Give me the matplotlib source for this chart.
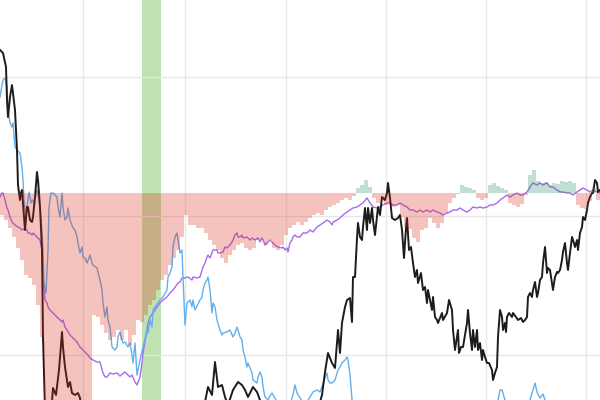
import numpy as np
import matplotlib
matplotlib.use("Agg")
import matplotlib.pyplot as plt

# ---------------- data ----------------
black_t = [0,3,6,7,8,10,12,15,17,18,20,21,22,25,27,28,30,32,33,35,37,38,40,42,43,45,48,51,53,56,59,62,63,65,67,68,70,72,75,78,80,83,90,100,110,120,130,140,150,160,170,180,190,200,205,208,212,215,218,222,225,228,233,238,242,245,248,253,257,260,265,275,285,295,305,315,320,322,325,328,332,335,338,340,342,345,347,350,352,353,355,357,358,360,362,363,365,367,368,370,372,373,375,377,378,380,382,385,387,388,390,392,395,398,400,402,404,406,407,409,411,413,415,417,418,421,423,425,427,428,432,433,435,437,438,442,443,447,449,452,453,455,457,458,459,461,463,467,468,470,472,473,475,477,478,480,482,483,485,487,489,492,493,495,497,498,500,502,503,505,506,507,509,512,513,516,518,521,523,525,527,528,530,532,533,535,537,538,540,542,543,545,547,548,550,552,553,555,557,558,560,562,563,565,567,568,570,572,573,575,577,578,580,582,583,585,587,588,590,592,593,595,597,598,600]
black_v = [143,140,126,93,76,96,108,83,43,8,-7,0,3,-37,-14,-14,-27,-29,-24,-4,21,13,-14,-57,-144,-217,-237,-222,-195,-202,-177,-139,-154,-174,-187,-194,-189,-200,-202,-200,-205,-227,-247,-257,-252,-262,-247,-267,-257,-252,-247,-237,-232,-222,-209,-194,-202,-169,-194,-192,-204,-212,-197,-189,-192,-197,-204,-194,-199,-207,-222,-232,-237,-227,-232,-217,-209,-202,-179,-160,-170,-175,-137,-160,-130,-114,-107,-105,-129,-84,-84,-45,-30,-44,-47,-34,-15,-37,-15,-30,-15,-27,-42,-24,-14,-22,-4,-7,0,10,-5,-25,-27,-25,-22,-37,-65,-35,-25,-57,-54,-70,-84,-77,-90,-80,-97,-94,-110,-97,-117,-104,-124,-127,-130,-120,-127,-120,-107,-117,-137,-157,-144,-137,-160,-154,-154,-130,-117,-140,-157,-137,-154,-137,-157,-150,-167,-157,-164,-170,-170,-177,-187,-180,-174,-144,-117,-124,-137,-130,-139,-124,-120,-124,-120,-124,-127,-125,-129,-127,-124,-104,-100,-104,-97,-89,-104,-100,-87,-84,-70,-54,-80,-75,-77,-90,-97,-84,-79,-80,-77,-67,-59,-50,-70,-77,-60,-44,-47,-54,-47,-57,-40,-34,-24,-27,-17,-10,-4,0,0,13,10,1,3]

blue_t = [0,2,3,5,7,8,10,12,13,15,17,20,22,23,24,26,27,29,31,32,34,37,39,41,43,44,46,48,49,51,53,55,57,58,60,62,63,65,67,68,70,73,75,77,78,80,82,83,85,87,90,92,93,97,100,102,103,105,107,108,110,112,113,115,117,118,120,122,123,125,128,130,132,133,135,137,140,143,147,148,150,152,153,155,160,163,167,168,170,172,173,175,177,178,180,182,183,185,187,190,192,193,195,200,202,203,205,207,208,210,212,213,215,217,220,222,223,227,230,233,235,237,238,240,242,243,245,247,248,252,253,257,258,260,262,263,265,268,270,272,275,280,288,293,295,297,300,305,310,313,317,320,325,327,328,330,332,335,338,340,342,345,347,348,350,352,355,370,390,410,430,450,470,490,498,500,502,505,510,520,530,532,533,535,537,540,543,545,550,570,600]
blue_v = [96,108,113,115,106,83,70,66,70,46,43,40,26,13,-7,-24,-14,1,-10,-7,-10,3,-7,-24,-57,-90,-100,-57,-14,0,0,-2,-4,-14,-24,0,-14,-27,-24,-15,-27,-35,-37,-44,-50,-60,-54,-64,-65,-70,-62,-70,-72,-75,-87,-97,-110,-124,-114,-127,-134,-154,-155,-157,-154,-144,-139,-147,-150,-149,-154,-150,-162,-170,-150,-182,-167,-154,-137,-140,-127,-134,-117,-114,-107,-104,-97,-84,-80,-74,-54,-44,-40,-47,-60,-57,-84,-132,-110,-107,-114,-107,-117,-107,-104,-97,-90,-87,-84,-97,-120,-110,-114,-127,-137,-142,-140,-139,-137,-144,-140,-134,-137,-144,-147,-157,-164,-174,-170,-180,-187,-190,-184,-179,-184,-194,-204,-207,-203,-200,-205,-217,-217,-202,-192,-200,-205,-212,-204,-199,-197,-199,-185,-180,-187,-190,-190,-187,-177,-174,-170,-167,-164,-167,-182,-207,-227,-237,-247,-242,-237,-232,-227,-217,-207,-197,-197,-207,-217,-212,-207,-200,-197,-190,-199,-205,-201,-207,-217,-227,-222]

purple_t = [0,2,3,5,7,8,10,12,13,15,18,20,22,25,27,28,30,32,33,35,37,38,40,42,43,45,47,48,50,53,55,57,58,60,62,63,65,67,70,72,73,77,80,83,85,88,90,93,97,100,103,105,107,110,113,117,120,125,128,130,132,135,137,140,142,143,147,148,150,153,157,160,163,167,170,173,178,180,182,185,188,192,193,197,200,203,205,207,208,210,213,217,218,220,223,225,227,230,232,233,235,237,238,240,242,243,247,250,252,255,258,260,262,263,265,267,270,273,275,278,282,283,285,287,288,290,292,293,295,297,300,303,307,310,313,317,320,323,327,330,332,333,337,340,343,347,350,353,357,360,363,367,370,373,377,380,383,387,390,393,397,400,403,407,410,413,417,420,423,427,430,433,437,440,443,447,450,453,457,460,463,467,470,473,477,480,483,487,490,493,497,500,503,507,510,513,517,520,523,527,530,533,537,540,543,547,550,553,557,560,563,567,570,573,577,580,583,587,590,593,597,600]
purple_v = [-4,0,0,-7,-15,-17,-24,-29,-30,-32,-34,-35,-37,-35,-37,-40,-40,-42,-40,-42,-44,-45,-47,-57,-84,-107,-110,-114,-117,-120,-122,-124,-125,-127,-129,-127,-134,-137,-142,-144,-145,-149,-154,-157,-159,-162,-165,-167,-169,-169,-180,-184,-184,-180,-181,-180,-183,-179,-182,-184,-182,-189,-192,-184,-170,-160,-137,-130,-124,-120,-114,-110,-107,-104,-100,-97,-90,-89,-85,-85,-84,-87,-84,-85,-84,-74,-70,-64,-62,-65,-57,-57,-60,-60,-59,-54,-55,-52,-49,-47,-42,-40,-44,-44,-42,-45,-44,-47,-45,-47,-45,-49,-45,-47,-52,-50,-47,-50,-52,-54,-55,-54,-57,-55,-59,-50,-47,-44,-42,-44,-44,-40,-40,-37,-39,-34,-32,-30,-27,-29,-32,-29,-27,-25,-22,-19,-17,-15,-14,-12,-10,-5,-10,-14,-15,-14,-12,-10,-10,-12,-12,-10,-12,-14,-17,-17,-19,-17,-19,-17,-19,-17,-19,-20,-22,-20,-19,-17,-17,-15,-17,-19,-17,-14,-15,-14,-15,-14,-12,-12,-10,-7,-5,-2,-4,-2,0,-2,-2,1,6,10,8,10,8,10,6,6,3,1,1,0,0,-2,1,3,5,3,1,3,1,0]

bar_v = [-22,-27,-35,-44,-55,-67,-82,-85,-92,-112,-144,
         -220,-235,-245,-250,-255,-260,-262,-258,-255,-250,-240,-225,
         -122,-124,-132,-140,-147,-144,-137,-147,-137,-152,-142,-127,-129,-122,-112,-107,-97,-87,-82,-72,-65,-57,-44,-22,-32,-32,-35,
         -35,-40,-47,-52,-57,-65,-70,-62,-57,-52,-50,-55,-57,-55,-47,-47,-52,-47,-55,-57,-52,-42,-35,-32,-29,
         -32,-29,-25,-22,-20,-22,-17,-14,-12,-10,-7,-5,-7,-3,5,8,13,6,-5,-10,-8,-12,-10,-14,-12,
         -24,-34,-36,-45,-49,-37,-35,-25,-30,-35,-30,-20,-10,-5,-1,8,6,5,3,-5,-7,-5,8,10,7,
         5,3,-10,-12,-14,-11,-2,18,23,12,10,11,8,10,9,12,11,12,10,-12,-15,-16,-8,5,-7]
bar_t = np.arange(2, 600, 4)

span_start, span_end = 142, 161

# ---------------- plot ----------------
fig = plt.figure(figsize=(6, 4), dpi=100)
ax = fig.add_axes([0, 0, 1, 1])

ax.axvspan(span_start, span_end, color='#bfe3b0', zorder=0, lw=0)

ax.plot(purple_t, purple_v, color='#a46cf0', lw=1.0, zorder=2)
ax.plot(blue_t, blue_v, color='#62b0ee', lw=1.0, zorder=2)
ax.plot(black_t, black_v, color='#1c1c1c', lw=1.4, zorder=3)

bar_v = np.array(bar_v)
colors = np.where(bar_v < 0, '#de2a18', '#1f8a5a')
ax.bar(bar_t, bar_v, width=4, color=colors, alpha=0.28, lw=0, zorder=4)

ax.set_xlim(0, 600)
ax.set_ylim(-207, 193)
ax.set_xticks([83, 185, 286, 386, 486, 586])
ax.set_yticks([116, -23, -162])
ax.grid(True, color='#e8e8e8', lw=1.0)
ax.set_axisbelow(True)
ax.tick_params(length=0, labelbottom=False, labelleft=False)
for s in ax.spines.values():
    s.set_visible(False)

fig.savefig('out.png', dpi=100)
